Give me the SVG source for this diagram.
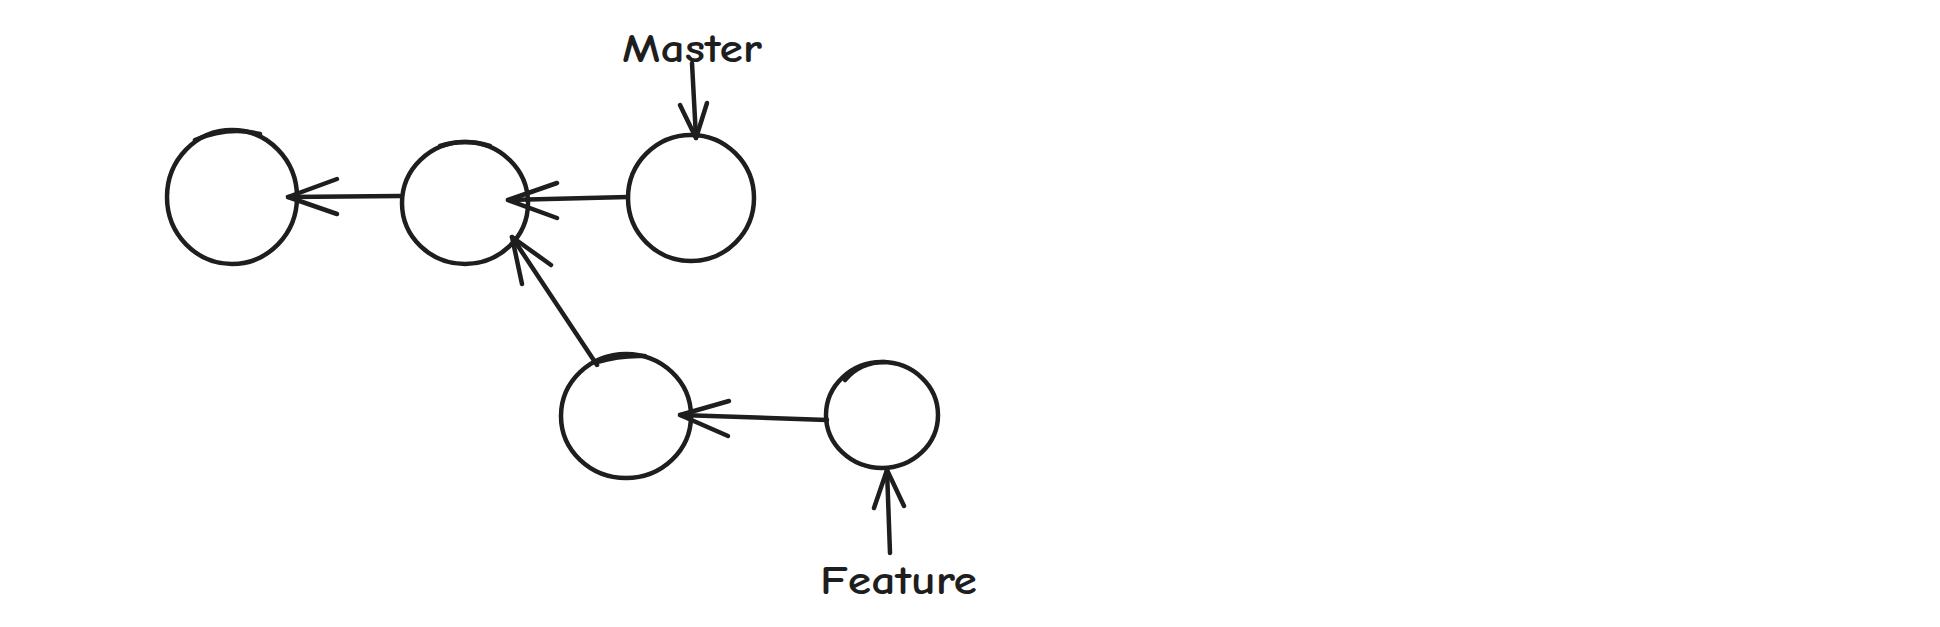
<svg xmlns="http://www.w3.org/2000/svg" width="1940" height="627" viewBox="0 0 1940 627">
<style>
.n{fill:none;stroke:#1e1e1e;stroke-width:4.5;stroke-linecap:round;stroke-linejoin:round}
.c{fill:none;stroke:#1e1e1e;stroke-width:4.5;stroke-linecap:round;stroke-linejoin:round}
.t{font-family:"Comic Neue","Liberation Sans",sans-serif;font-size:40px;font-weight:700;fill:#1e1e1e}
</style>
<rect width="1940" height="627" fill="#ffffff"/>
<g id="commit1"><ellipse class="n" cx="232" cy="197" rx="65" ry="67"/><path class="n" d="M195 140 Q228 126 260 134" stroke-width="2.5"/></g>
<g id="commit2"><ellipse class="n" cx="465" cy="203" rx="63" ry="61"/><path class="n" d="M440 146 Q465 138 490 146" stroke-width="2.5"/></g>
<g id="commit3"><ellipse class="n" cx="691" cy="198" rx="63" ry="63"/></g>
<g id="commit4"><ellipse class="n" cx="626" cy="416" rx="65" ry="62"/><path class="n" d="M597 362 Q620 355 645 356" stroke-width="3"/></g>
<g id="commit5"><ellipse class="n" cx="882" cy="415" rx="56" ry="53"/><path class="n" d="M845 380 Q860 362 885 362" stroke-width="2.5"/></g>
<g id="label-master"><text class="t" x="622" y="62" textLength="140" lengthAdjust="spacingAndGlyphs">Master</text></g>
<g id="label-feature"><text class="t" x="820" y="594" textLength="157" lengthAdjust="spacingAndGlyphs">Feature</text></g>
<g id="connectors">
<line class="c" x1="400" y1="196" x2="288" y2="197"/>
<polyline class="c" points="337,179 288,197 337,214"/>
<line class="c" x1="628" y1="197" x2="508" y2="200" stroke-width="5.5"/>
<polyline class="c" points="557,183 508,200 557,218"/>
<line class="c" x1="597" y1="365" x2="512" y2="237"/>
<polyline class="c" points="522,284 512,237 551,265"/>
<line class="c" x1="827" y1="420" x2="680" y2="415" stroke-width="5.5"/>
<polyline class="c" points="729,401 680,415 728,436"/>
<line class="c" x1="692" y1="63" x2="696" y2="138"/>
<polyline class="c" points="680,105 696,138 707,103"/>
<line class="c" x1="890" y1="553" x2="887" y2="470"/>
<polyline class="c" points="874,508 887,470 904,506"/>
</g>
</svg>
